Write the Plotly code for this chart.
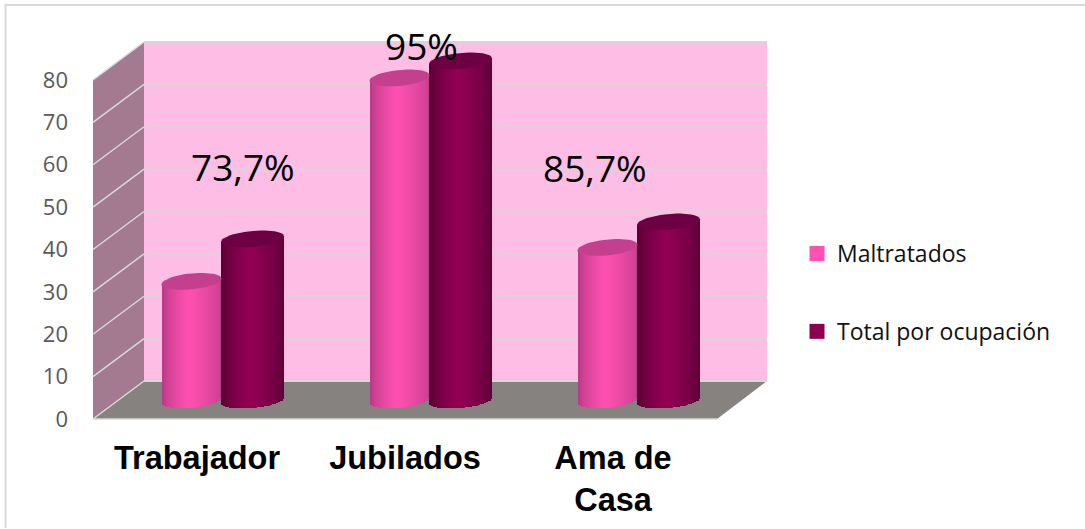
import math
import plotly.graph_objects as go

categories = ["Trabajador", "Jubilados", "Ama de<br>Casa"]
maltratados = [28, 76, 36]
total_ocupacion = [38, 80, 42]
y_ticks = [0, 10, 20, 30, 40, 50, 60, 70, 80]
percent_labels = ["73,7%", "95%", "85,7%"]

W, H = 1085, 529
PX = 4.2375  # px per unit
FX0, FX1, FY0 = 93, 717, 419     # front plane
BX0, BX1, BY0 = 144, 767, 381    # back wall
BARX0, BARX1, BARY0 = 118, 742, 400  # plane through cylinders' centres
UNIT = (BARX1 - BARX0) / 3


def lerp(c1, c2, f):
    return "#%02x%02x%02x" % tuple(round(a + (b - a) * f) for a, b in zip(c1, c2))


def shade(edgeL, mid, edgeR, t):
    p = -0.1
    if t < p:
        f = ((t + 1) / (p + 1)) ** 0.6
        return lerp(edgeL, mid, f)
    f = ((1 - t) / (1 - p)) ** 0.6
    return lerp(edgeR, mid, f)


series = [
    dict(vals=maltratados, cx=-30.5, hw=30.0, edgeL=(176, 56, 128), mid=(255, 80, 178), edgeR=(190, 60, 136), cap="#c4408e"),
    dict(vals=total_ocupacion, cx=30.5, hw=31.5, edgeL=(80, 0, 47), mid=(146, 0, 84), edgeR=(88, 0, 52), cap="#6d0042"),
]
N = 30
ELL_H = 8.0 / PX
TILT = 2.8 / PX

fig = go.Figure()

for s in series:
    hw, cx = s["hw"], s["cx"]
    for i in range(N):
        t0 = -1 + 2 * i / N
        t1 = -1 + 2 * (i + 1) / N
        t = (t0 + t1) / 2
        bottom = TILT * t - ELL_H * math.sqrt(max(0, 1 - t * t))
        top_off = TILT * t
        w = (t1 - t0) * hw + (0.6 if i < N - 1 else 0)
        fig.add_trace(go.Bar(
            x=[0, 1, 2],
            y=[v + top_off - bottom for v in s["vals"]],
            base=[bottom] * 3,
            offset=(cx + t0 * hw) / UNIT,
            width=w / UNIT,
            marker=dict(color=shade(s["edgeL"], s["mid"], s["edgeR"], t), line=dict(width=0)),
            xaxis="x2", yaxis="y2", showlegend=False, hoverinfo="skip",
        ))
    for c, v in enumerate(s["vals"]):
        xs, ys = [], []
        for k in range(49):
            a = 2 * math.pi * k / 48
            xs.append(c + (cx + hw * math.cos(a)) / UNIT)
            ys.append(v + TILT * math.cos(a) + ELL_H * math.sin(a))
        fig.add_trace(go.Scatter(
            x=xs, y=ys, mode="lines", fill="toself", fillcolor=s["cap"],
            line=dict(width=0, color=s["cap"]), xaxis="x2", yaxis="y2",
            showlegend=False, hoverinfo="skip",
        ))

for name, col, grp in [("Maltratados", "#ff50b4", "a"), ("Total por ocupación", "#8b004f", "b")]:
    fig.add_trace(go.Scatter(
        x=[None], y=[None], mode="markers", name=name, legendgroup=grp,
        marker=dict(symbol="square", size=15, color=col, line=dict(width=0)),
    ))


def path(pts):
    return "M" + "L".join(f"{x},{y}" for x, y in pts) + "Z"


def P(x, y):
    return (x / W, 1 - y / H)


wall = "#a37a90"
shapes = [
    dict(type="line", xref="paper", yref="paper", x0=4.5 / W, x1=1, y0=1 - 5 / H, y1=1 - 5 / H,
         line=dict(color="#d9d9d9", width=2), layer="below"),
    dict(type="line", xref="paper", yref="paper", x0=5.5 / W, x1=5.5 / W, y0=1 - 528 / H, y1=1 - 4 / H,
         line=dict(color="#d9d9d9", width=2), layer="below"),
]

top_back = BY0 - 80 * PX
top_front = FY0 - 80 * PX
shapes.append(dict(type="path", xref="paper", yref="paper", layer="below",
                   path=path([P(BX0, BY0), P(BX1, BY0), P(BX1, top_back), P(BX0, top_back)]),
                   fillcolor="#fdbde5", line=dict(width=0)))
shapes.append(dict(type="path", xref="paper", yref="paper", layer="below",
                   path=path([P(FX0, FY0), P(BX0, BY0), P(BX0, top_back), P(FX0, top_front)]),
                   fillcolor=wall, line=dict(width=0)))
shapes.append(dict(type="path", xref="paper", yref="paper", layer="below",
                   path=path([P(FX0, FY0), P(FX1, FY0), P(BX1, BY0), P(BX0, BY0)]),
                   fillcolor="#868280", line=dict(width=0)))
for v in y_ticks:
    yb, yf = BY0 - v * PX, FY0 - v * PX
    xb0, yb0 = P(BX0, yb)
    xb1, _ = P(BX1, yb)
    xf, yf0 = P(FX0, yf)
    shapes.append(dict(type="line", xref="paper", yref="paper", layer="below",
                       x0=xb0, x1=xb1, y0=yb0, y1=yb0, line=dict(color="#e0d0d8" if v else "#d9d9d9", width=2)))
    shapes.append(dict(type="line", xref="paper", yref="paper", layer="below",
                       x0=xf, x1=xb0, y0=yf0, y1=yb0, line=dict(color="#d9d9d9", width=1.5)))
shapes.append(dict(type="line", xref="paper", yref="paper", layer="below",
                   x0=FX0 / W, x1=FX1 / W, y0=1 - FY0 / H, y1=1 - FY0 / H, line=dict(color="#d9d9d9", width=1.5)))

label_pos = [(243, 166), (421, 45), (595, 167)]
annotations = [
    dict(text=t, xref="paper", yref="paper", x=x / W, y=1 - y / H, showarrow=False,
         xanchor="center", yanchor="middle", font=dict(family="Open Sans", size=37, color="#000000"))
    for t, (x, y) in zip(percent_labels, label_pos)
]

y_dom0 = 1 - FY0 / H
y_dom1 = 1 - (FY0 - 80 * PX) / H

fig.update_layout(
    width=W, height=H, autosize=False,
    margin=dict(l=0, r=0, t=0, b=0, pad=0, autoexpand=False),
    paper_bgcolor="white", plot_bgcolor="rgba(0,0,0,0)",
    barmode="overlay", bargap=0,
    shapes=shapes, annotations=annotations,
    showlegend=True,
    legend=dict(x=797 / W, y=1 - 232 / H, xanchor="left", yanchor="top", bgcolor="rgba(0,0,0,0)",
                itemsizing="trace", tracegroupgap=45, itemwidth=30,
                font=dict(family="Open Sans", size=23, color="#111111")),
    xaxis=dict(domain=[FX0 / W, FX1 / W], range=[-0.5, 2.5], tickmode="array", tickvals=[0, 1, 2],
               ticktext=["<b>%s</b>" % c.replace("<br>", "</b><br><b>") for c in categories],
               tickfont=dict(family="Liberation Sans", size=32.5, color="#000000"),
               showgrid=False, zeroline=False, showline=False, ticks="", ticklabelstandoff=16,
               anchor="y", fixedrange=True, automargin=False),
    yaxis=dict(domain=[y_dom0, y_dom1], range=[0, 80], tickmode="array", tickvals=y_ticks,
               tickfont=dict(family="Open Sans", size=22, color="#595959"),
               showgrid=False, zeroline=False, showline=False, ticks="", ticklabelstandoff=24,
               anchor="x", fixedrange=True, automargin=False),
    xaxis2=dict(domain=[BARX0 / W, BARX1 / W], range=[-0.5, 2.5], visible=False,
                anchor="y2", fixedrange=True),
    yaxis2=dict(domain=[y_dom0, 1], range=[-(FY0 - BARY0) / PX, BARY0 / PX], visible=False,
                anchor="x2", fixedrange=True),
)

fig.write_html("out.html", config=dict(displayModeBar=False),
               post_script="document.body.style.margin='0';document.body.style.overflow='hidden';")
